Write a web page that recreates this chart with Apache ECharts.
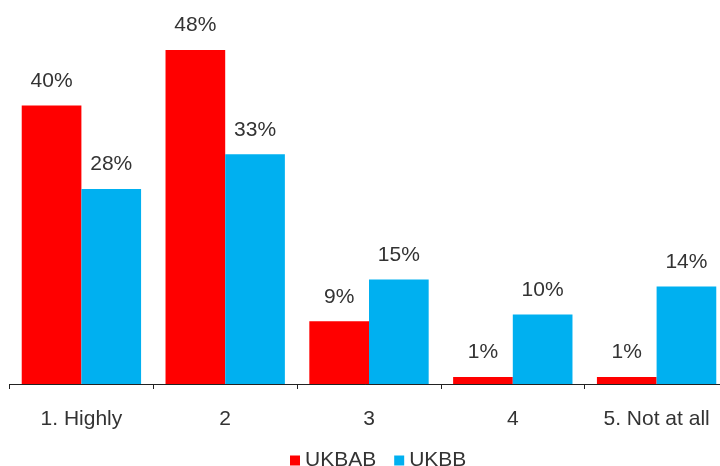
<!DOCTYPE html>
<html>
<head>
<meta charset="utf-8">
<script src="https://cdn.jsdelivr.net/npm/echarts@6/dist/echarts.min.js"></script>
<style>
  html, body { margin: 0; padding: 0; background: #fff; }
  #chart { width: 720px; height: 466px; }
</style>
</head>
<body>
<div id="chart"></div>
<script>
// Survey answer categories and the share of each group per answer
const categories = ['1. Highly', '2', '3', '4', '5. Not at all'];
const seriesNames = ['UKBAB', 'UKBB'];
const ukbab = [40, 48, 9, 1, 1];
const ukbb = [28, 33, 15, 10, 14];

const chart = echarts.init(document.getElementById('chart'));
const font = 'Liberation Sans, Arial, sans-serif';
const textColor = '#333';

const labelStyle = {
  show: true,
  position: 'top',
  distance: 14,
  formatter: p => p.value + '%',
  color: textColor,
  fontFamily: font,
  fontSize: 21
};

chart.setOption({
  animation: false,
  // the plot runs a little past the right edge, so the last category is clipped
  grid: {
    left: 9.5, width: 719, top: 36, bottom: 82,
    containLabel: false,
    outerBoundsMode: 'none'
  },
  legend: {
    data: seriesNames,
    top: 450,
    left: 290,
    padding: 0,
    itemWidth: 10,
    itemHeight: 10,
    itemGap: 18,
    itemTextGap: 5,
    icon: 'rect',
    textStyle: { fontFamily: font, fontSize: 21, color: textColor }
  },
  xAxis: {
    type: 'category',
    data: categories,
    axisLine: { lineStyle: { color: '#222', width: 1 } },
    axisTick: { show: true, length: 5, inside: false, lineStyle: { color: '#222' } },
    axisLabel: { color: textColor, fontFamily: font, fontSize: 21, margin: 25 }
  },
  yAxis: {
    type: 'value',
    min: 0,
    max: 50,
    show: false,
    splitLine: { show: false }
  },
  series: [
    {
      name: seriesNames[0],
      type: 'bar',
      data: ukbab,
      itemStyle: { color: '#FF0000' },
      barGap: '0%',
      barCategoryGap: '17%',
      label: labelStyle
    },
    {
      name: seriesNames[1],
      type: 'bar',
      data: ukbb,
      itemStyle: { color: '#00B0F0' },
      barGap: '0%',
      barCategoryGap: '17%',
      label: labelStyle
    }
  ]
});
</script>
</body>
</html>
